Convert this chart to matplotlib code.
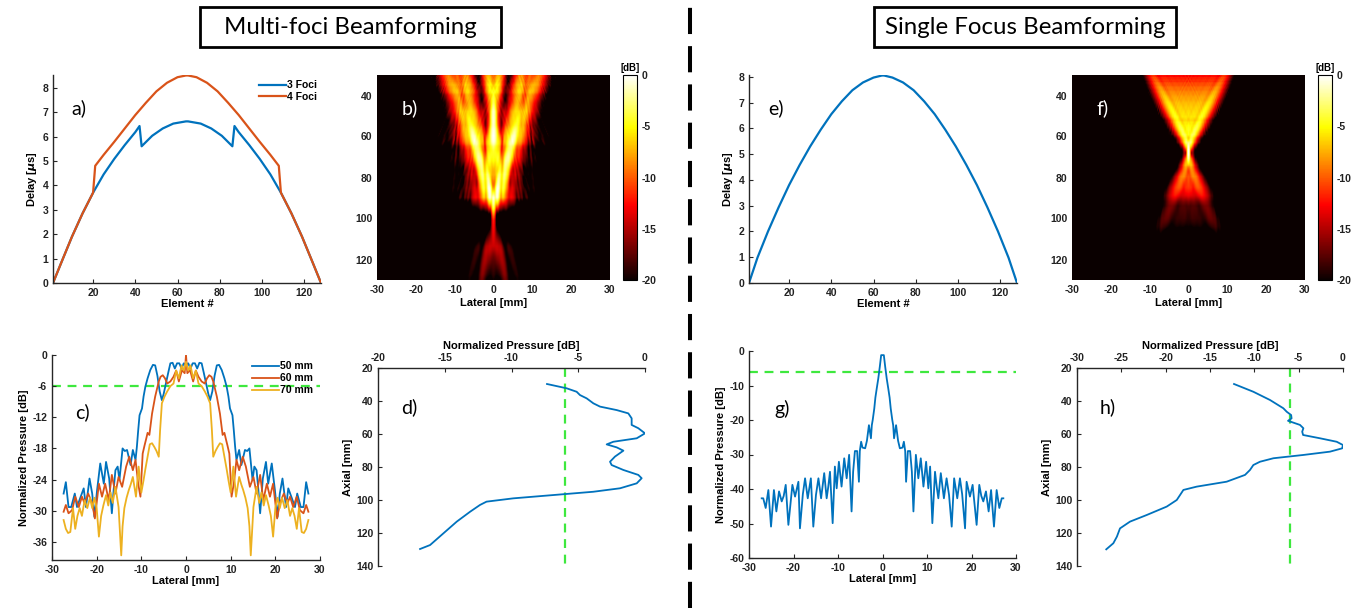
import numpy as np
import matplotlib
matplotlib.use("Agg")
import matplotlib.pyplot as plt
from matplotlib.lines import Line2D
from matplotlib.patches import Rectangle

# ---------------- delay profiles (element index -> delay in us) ----------------
elem_3foci = [1, 5, 10, 15, 20, 25, 30, 35, 40, 42,
              43, 48, 53, 58, 64, 65, 71, 76, 81, 86,
              87, 89, 94, 99, 104, 109, 114, 119, 124, 128]
delay_3foci = [0, 0.85, 1.9, 2.85, 3.7, 4.45, 5.08, 5.65, 6.18, 6.43,
               5.6, 6.03, 6.33, 6.53, 6.62, 6.62, 6.53, 6.33, 6.03, 5.6,
               6.43, 6.18, 5.65, 5.08, 4.45, 3.7, 2.85, 1.9, 0.85, 0]

elem_4foci = [1, 5, 10, 15, 20, 21, 25, 30, 35, 40, 45, 50, 55, 60, 64,
              65, 69, 74, 79, 84, 89, 94, 99, 104, 108, 109, 114, 119, 124, 128]
delay_4foci = [0, 0.85, 1.9, 2.85, 3.7, 4.8, 5.25, 5.78, 6.33, 6.88, 7.38, 7.85, 8.2, 8.43, 8.5,
               8.5, 8.43, 8.2, 7.85, 7.38, 6.88, 6.33, 5.78, 5.25, 4.8, 3.7, 2.85, 1.9, 0.85, 0]

elem_single = [1, 5, 10, 15, 20, 25, 30, 35, 40, 45, 50, 55, 60, 64,
               65, 69, 74, 79, 84, 89, 94, 99, 104, 109, 114, 119, 124, 128]
delay_single = [0, 0.98, 2.0, 2.93, 3.8, 4.58, 5.3, 5.95, 6.55, 7.05, 7.48, 7.78, 7.97, 8.05,
                8.05, 7.97, 7.78, 7.48, 7.05, 6.55, 5.95, 5.3, 4.58, 3.8, 2.93, 2.0, 0.98, 0]

# ---------------- lateral profiles (one half, mirrored about 0 mm) ----------------
lat50 = [0, 0.5, 1.0, 1.5, 2.0, 2.5, 3.0, 3.5, 4.0, 4.5, 5.0, 5.4, 5.9, 6.4, 6.9, 7.4, 8.0,
         8.6, 9.1, 9.5, 9.85, 10.4, 10.7, 11.0, 11.3, 11.9, 12.4, 13.2, 13.7, 14.2, 14.9,
         15.3, 15.8, 16.2, 16.6, 17.2, 17.9, 18.4, 19.2, 19.9, 20.5, 21.0, 21.6, 22.4,
         22.9, 23.7, 24.4, 24.9, 25.7, 26.3, 26.9, 27.4]
db50 = [-2.0, -1.6, -2.6, -1.6, -1.6, -2.6, -1.5, -1.6, -3.5, -5.5, -7.5, -8.7, -7.0, -4.0,
        -2.0, -1.9, -2.9, -4.5, -6.1, -8.0, -10.3, -11.6, -14.5, -17.7, -20.2, -18.3, -21.2,
        -18.3, -18.5, -18.0, -24.1, -21.5, -22.2, -26.0, -30.5, -23.8, -20.6, -24.8, -20.9,
        -26.0, -31.2, -26.7, -23.8, -29.3, -25.7, -27.6, -29.3, -26.7, -29.3, -29.3, -24.5, -26.7]

lat60 = [0, 0.3, 0.9, 1.6, 2.2, 2.8, 3.5, 4.2, 4.7, 5.2, 5.7, 6.1, 6.9, 7.6, 8.2, 8.6, 8.9,
         9.3, 9.7, 10.2, 10.7, 11.3, 11.9, 12.7, 13.4, 14.3, 15.1, 15.8, 16.6, 17.3, 18.1,
         18.8, 19.5, 20.4, 21.0, 21.9, 22.7, 23.3, 24.0, 24.8, 25.5, 26.3, 26.9, 27.4]
db60 = [0.0, -3.5, -2.9, -5.1, -3.0, -4.2, -5.1, -5.5, -4.5, -3.9, -4.2, -5.1, -8.0, -11.3,
        -15.4, -15.0, -16.1, -17.5, -19.0, -27.3, -24.8, -20.2, -22.2, -19.6, -21.5, -25.4,
        -23.5, -26.7, -23.1, -28.0, -24.8, -27.3, -24.8, -31.5, -28.6, -26.7, -28.6, -27.3,
        -29.3, -27.3, -29.9, -30.5, -28.9, -30.2]

lat70 = [0, 0.5, 1.0, 1.6, 2.2, 2.8, 3.5, 4.2, 4.8, 5.4, 5.8, 6.1, 6.6, 7.1, 7.6, 8.1, 8.6,
         9.1, 9.5, 10.0, 10.6, 11.2, 11.9, 12.4, 12.8, 13.3, 13.8, 14.2, 14.5, 15.1, 15.8,
         16.4, 16.9, 17.4, 17.9, 18.5, 19.0, 19.5, 20.0, 20.5, 21.0, 21.5, 22.1, 22.7, 23.3,
         23.8, 24.3, 24.8, 25.3, 25.9, 26.4, 26.9, 27.4]
db70 = [-1.3, -3.0, -2.0, -4.5, -3.0, -5.5, -6.0, -7.0, -8.0, -9.3, -14.5, -19.6, -18.5,
        -17.7, -17.0, -17.2, -19.6, -22.0, -24.1, -26.5, -21.5, -27.3, -23.5, -25.0, -26.0,
        -27.5, -29.5, -33.0, -38.6, -29.3, -25.4, -28.5, -26.5, -29.0, -27.0, -29.0, -31.0,
        -35.0, -29.5, -27.5, -29.5, -27.5, -29.5, -28.0, -31.0, -29.5, -31.0, -33.5, -29.5,
        -34.1, -34.3, -33.5, -31.8]

lat_single = [0, 0.3, 0.6, 0.95, 1.3, 1.6, 1.85, 2.2, 2.4, 2.6, 3.05, 3.5, 3.9, 4.5, 4.8,
              5.1, 5.3, 5.7, 6.2, 6.6, 6.95, 7.5, 8.05, 8.6, 9.2, 9.8, 10.3, 10.7, 11.2,
              11.8, 12.2, 12.55, 13.1, 13.8, 14.4, 14.95, 15.55, 16.1, 16.8, 17.4, 17.9,
              18.55, 18.9, 19.65, 20.25, 21.15, 21.75, 22.2, 22.65, 23.25, 23.85, 24.4,
              25.05, 25.65, 26.25, 26.8, 27.15]
db_single = [-1.2, -1.2, -4.5, -8.0, -10.9, -13.5, -16.7, -20.0, -21.5, -25.3, -21.5, -26.0,
             -28.2, -28.0, -26.3, -29.0, -37.9, -29.0, -29.0, -35.0, -46.5, -30.1, -36.9,
             -31.1, -39.3, -32.1, -39.8, -33.5, -49.9, -35.0, -39.5, -42.7, -35.4, -42.7,
             -36.9, -41.7, -50.9, -36.9, -42.7, -36.9, -41.5, -51.4, -37.9, -42.2, -38.8,
             -50.4, -38.8, -42.0, -43.6, -40.7, -46.5, -40.3, -50.9, -40.3, -45.5, -42.7, -42.7]

# ---------------- axial profiles ----------------
axial_multi = [29.7, 32.3, 34.4, 36.4, 38.4, 41.4, 43.4, 45.5, 47.5, 50.5, 54.5, 56.5, 59.6,
               62.6, 64.7, 66.3, 68.1, 70.1, 73.7, 76.8, 78.8, 81.8, 84.8, 86.8, 89.9, 92.9,
               95.0, 97.0, 99.0, 101.0, 103.0, 107.1, 113.1, 120.2, 127.3, 129.7]
db_axial_multi = [-7.34, -5.87, -5.12, -4.87, -4.37, -3.87, -3.37, -2.12, -1.25, -1.0, -1.0,
                  -0.5, 0.0, -0.62, -2.37, -2.87, -2.12, -1.62, -2.25, -2.62, -2.5, -1.62,
                  -0.5, -0.25, -0.62, -1.87, -3.87, -6.87, -9.87, -11.87, -12.36, -13.1,
                  -14.1, -15.1, -16.1, -16.85]

axial_single = [29.7, 34.4, 39.4, 44.4, 46.5, 48.5, 50.5, 52.0, 54.5, 56.5, 58.6, 60.6, 62.6,
                64.7, 66.7, 68.7, 70.7, 72.7, 74.7, 76.8, 78.8, 81.8, 84.8, 88.9, 91.9, 93.9,
                97.0, 100.0, 104.0, 109.1, 113.1, 117.2, 122.2, 126.2, 129.9]
db_axial_single = [-12.29, -10.11, -8.23, -6.73, -6.35, -5.85, -5.8, -6.2, -4.85, -4.47, -4.6,
                   -4.5, -2.59, -0.71, 0.0, -0.1, -1.47, -4.47, -7.85, -9.36, -10.11, -10.49,
                   -11.05, -13.12, -16.5, -18.0, -18.38, -18.75, -19.88, -22.14, -24.02,
                   -25.15, -25.5, -25.9, -26.7]

# ---------------- linear-array field model used for the beam maps ----------------
N_ELEM = 128
PITCH_MM = 0.32
SOUND_SPEED = 1.54                      # mm/us
FREQS_MHZ = [3.0, 3.5, 4.0, 4.5, 5.0]
SINGLE_SEG_EDGES = [0, 128]
SINGLE_SEG_FOCUS = [68.0]
SINGLE_REF_HALFWIDTH_MM = 0.6          # depth scaling taken on the beam axis
MULTI_SEG_EDGES = [0, 42, 86, 128]
MULTI_SEG_FOCUS = [97.0, 60.0, 97.0]
MULTI_REF_HALFWIDTH_MM = 30.0          # depth scaling taken on the row maximum

map_lateral = np.linspace(-30, 30, 241)
map_axial = np.linspace(30, 130, 201)


def beam_map_db(seg_edges, seg_focus, ref_halfwidth, prof_axial, prof_db):
    """Lateral beam structure from a CW array model; depth scaling from the axial profile."""
    X, Z = np.meshgrid(map_lateral, map_axial)
    xe = (np.arange(N_ELEM) - (N_ELEM - 1) / 2) * PITCH_MM
    focus = np.empty(N_ELEM)
    for s, fz in enumerate(seg_focus):
        focus[seg_edges[s]:seg_edges[s + 1]] = fz
    comp = np.sqrt(focus ** 2 + xe ** 2) - focus
    inten = np.zeros_like(X)
    for f in FREQS_MHZ:
        k = 2 * np.pi * f / SOUND_SPEED
        p = np.zeros(X.shape, dtype=complex)
        for n in range(N_ELEM):
            r = np.sqrt((X - xe[n]) ** 2 + Z ** 2)
            p += np.exp(-1j * k * (r - comp[n])) / np.sqrt(r)
        inten += np.abs(p) ** 2
    sim_db = 10 * np.log10(inten)
    window = np.abs(map_lateral) <= ref_halfwidth
    ref_db = sim_db[:, window].max(axis=1)
    return sim_db - ref_db[:, None] + np.interp(map_axial, prof_axial, prof_db)[:, None]


def mirrored(x, y):
    x = np.asarray(x, float)
    y = np.asarray(y, float)
    return np.concatenate([-x[:0:-1], x]), np.concatenate([y[:0:-1], y])


# ---------------- styling ----------------
W, H = 1369, 608
plt.rcParams["font.family"] = ["Liberation Sans", "DejaVu Sans"]
plt.rcParams["font.weight"] = "bold"
plt.rcParams["axes.labelweight"] = "bold"
plt.rcParams["axes.unicode_minus"] = False
plt.rcParams["axes.linewidth"] = 1.0
plt.rcParams["xtick.direction"] = "in"
plt.rcParams["ytick.direction"] = "in"
plt.rcParams["xtick.major.size"] = 3
plt.rcParams["ytick.major.size"] = 3
TICK_FS = 7.5
LABEL_FS = 8
BLUE = "#0072BD"
ORANGE = "#D95319"
YELLOW = "#EDB120"
GREEN = "#3ee83e"
EDGE = "#262626"

fig = plt.figure(figsize=(W / 100, H / 100), dpi=100)


def box(l, t, r, b):
    return [l / W, 1 - b / H, (r - l) / W, (b - t) / H]


def line_axes(ax, top_x=False):
    for s in ["left", "right", "top", "bottom"]:
        ax.spines[s].set_visible(False)
    ax.spines["left"].set_visible(True)
    ax.spines["top" if top_x else "bottom"].set_visible(True)
    for s in ax.spines.values():
        s.set_color(EDGE)
    ax.tick_params(labelsize=TICK_FS, colors=EDGE, labelcolor="#222222")
    if top_x:
        ax.xaxis.tick_top()
        ax.xaxis.set_label_position("top")


def letter(ax, x, y, s, color="black"):
    ax.text(x, y, s, transform=ax.transAxes, fontsize=14, family="Lato",
            fontweight="normal", color=color, va="center", ha="left")


# ---- a) and e): delay profiles ----
for pos, series, ylim, lab in [
    (box(53, 75, 321, 283), [(elem_3foci, delay_3foci, BLUE, "3 Foci"),
                             (elem_4foci, delay_4foci, ORANGE, "4 Foci")], 8.52, "a)"),
    (box(749, 75, 1017, 283), [(elem_single, delay_single, BLUE, None)], 8.07, "e)"),
]:
    ax = fig.add_axes(pos)
    for xs, ys, c, name in series:
        ax.plot(xs, ys, color=c, lw=1.6, label=name)
    ax.set_xlim(1, 128)
    ax.set_ylim(0, ylim)
    ax.set_xticks([20, 40, 60, 80, 100, 120])
    ax.set_yticks(range(0, 9))
    line_axes(ax)
    ax.set_xlabel("Element #", fontsize=LABEL_FS, labelpad=1)
    ax.set_ylabel("Delay [$\\mu$s]", fontsize=LABEL_FS, labelpad=2)
    letter(ax, 0.07, 0.84, lab)
    if len(series) > 1:
        ax.legend(loc="upper right", bbox_to_anchor=(0.985, 0.975), frameon=False,
                  prop={"size": 7.5, "weight": "bold"}, handlelength=2.6,
                  labelspacing=0.15, borderpad=0, borderaxespad=0, handletextpad=0.1)

# ---- b) and f): beam maps ----
for pos, cpos, edges, foci, hw, pa, pdb, lab in [
    (box(377, 75, 610, 280), box(623, 75, 637, 280), MULTI_SEG_EDGES, MULTI_SEG_FOCUS,
     MULTI_REF_HALFWIDTH_MM, axial_multi, db_axial_multi, "b)"),
    (box(1072, 75, 1305, 280), box(1318, 75, 1332, 280), SINGLE_SEG_EDGES, SINGLE_SEG_FOCUS,
     SINGLE_REF_HALFWIDTH_MM, axial_single, db_axial_single, "f)"),
]:
    ax = fig.add_axes(pos)
    im = ax.imshow(beam_map_db(edges, foci, hw, pa, pdb), cmap="hot", vmin=-20, vmax=0,
                   aspect="auto", extent=[-30, 30, 130, 30], interpolation="bilinear")
    ax.set_xticks(range(-30, 31, 10))
    ax.set_yticks([40, 60, 80, 100, 120])
    ax.tick_params(labelsize=TICK_FS, labelcolor="#222222", length=0)
    for s in ax.spines.values():
        s.set_visible(False)
    ax.set_xlabel("Lateral [mm]", fontsize=LABEL_FS, labelpad=2)
    letter(ax, 0.105, 0.84, lab, color="white")
    cax = fig.add_axes(cpos)
    cb = fig.colorbar(im, cax=cax, ticks=[0, -5, -10, -15, -20])
    cb.outline.set_linewidth(0.8)
    cax.tick_params(labelsize=TICK_FS, length=0, labelcolor="#222222")
    cax.set_title("[dB]", fontsize=7, fontweight="bold", pad=3)

# ---- c) lateral profiles, multi-foci ----
ax = fig.add_axes(box(52, 355, 320, 560))
ax.axhline(-6, color=GREEN, lw=1.6, ls=(0, (4, 3)), zorder=1)
for xs, ys, c, name in [(lat50, db50, BLUE, "50 mm"), (lat60, db60, ORANGE, "60 mm"),
                        (lat70, db70, YELLOW, "70 mm")]:
    mx, my = mirrored(xs, ys)
    ax.plot(mx, my, color=c, lw=1.3, label=name, zorder=2)
ax.set_xlim(-30, 30)
ax.set_ylim(-39.5, 0)
ax.set_xticks(range(-30, 31, 10))
ax.set_yticks(range(-36, 1, 6))
line_axes(ax)
ax.set_xlabel("Lateral [mm]", fontsize=LABEL_FS, labelpad=1)
ax.set_ylabel("Normalized Pressure [dB]", fontsize=LABEL_FS, labelpad=2)
letter(ax, 0.085, 0.72, "c)")
ax.legend(loc="upper right", bbox_to_anchor=(0.975, 0.97), frameon=False,
          prop={"size": 7.5, "weight": "bold"}, handlelength=2.6, labelspacing=0.2,
          borderpad=0, borderaxespad=0, handletextpad=0.1)

# ---- g) lateral profile, single focus ----
ax = fig.add_axes(box(749, 351, 1016, 558))
ax.axhline(-6, color=GREEN, lw=1.6, ls=(0, (4, 3)), zorder=1)
mx, my = mirrored(lat_single, db_single)
ax.plot(mx, my, color=BLUE, lw=1.3, zorder=2)
ax.set_xlim(-30, 30)
ax.set_ylim(-60, 0)
ax.set_xticks(range(-30, 31, 10))
ax.set_yticks(range(-60, 1, 10))
line_axes(ax)
ax.set_xlabel("Lateral [mm]", fontsize=LABEL_FS, labelpad=1)
ax.set_ylabel("Normalized Pressure [dB]", fontsize=LABEL_FS, labelpad=2)
letter(ax, 0.095, 0.72, "g)")

# ---- d) and h): axial profiles ----
for pos, xs, ys, xlo, lab in [
    (box(378, 368, 645, 566), db_axial_multi, axial_multi, -20, "d)"),
    (box(1077, 368, 1343, 566), db_axial_single, axial_single, -30, "h)"),
]:
    ax = fig.add_axes(pos)
    ax.plot([-6, -6], [20, 140], color=GREEN, lw=1.6, ls=(0, (4, 3)), zorder=1)
    ax.plot(xs, ys, color=BLUE, lw=1.3, zorder=2)
    ax.set_xlim(xlo, 0)
    ax.set_ylim(140, 20)
    ax.set_xticks(range(xlo, 1, 5))
    ax.set_yticks(range(20, 141, 20))
    line_axes(ax, top_x=True)
    ax.set_xlabel("Normalized Pressure [dB]", fontsize=LABEL_FS, labelpad=3)
    ax.set_ylabel("Axial [mm]", fontsize=LABEL_FS, labelpad=2)
    letter(ax, 0.085, 0.8, lab)

# ---- section titles and divider ----
for (l, t, r, b), title in [((200, 7, 501, 47), "Multi-foci Beamforming"),
                            ((874, 7, 1176, 47), "Single Focus Beamforming")]:
    fig.patches.append(Rectangle((l / W, 1 - b / H), (r - l) / W, (b - t) / H,
                                 transform=fig.transFigure, fill=False, lw=2,
                                 edgecolor="black"))
    fig.text((l + r) / 2 / W, 1 - (t + b) / 2 / H, title, ha="center", va="center",
             fontsize=17.3, family="Lato", fontweight="normal")

fig.lines.append(Line2D([690 / W, 690 / W], [0, 1], transform=fig.transFigure,
                        color="black", lw=2.9, dashes=(6.5, 3)))

fig.savefig("out.png", dpi=100, facecolor="white")
